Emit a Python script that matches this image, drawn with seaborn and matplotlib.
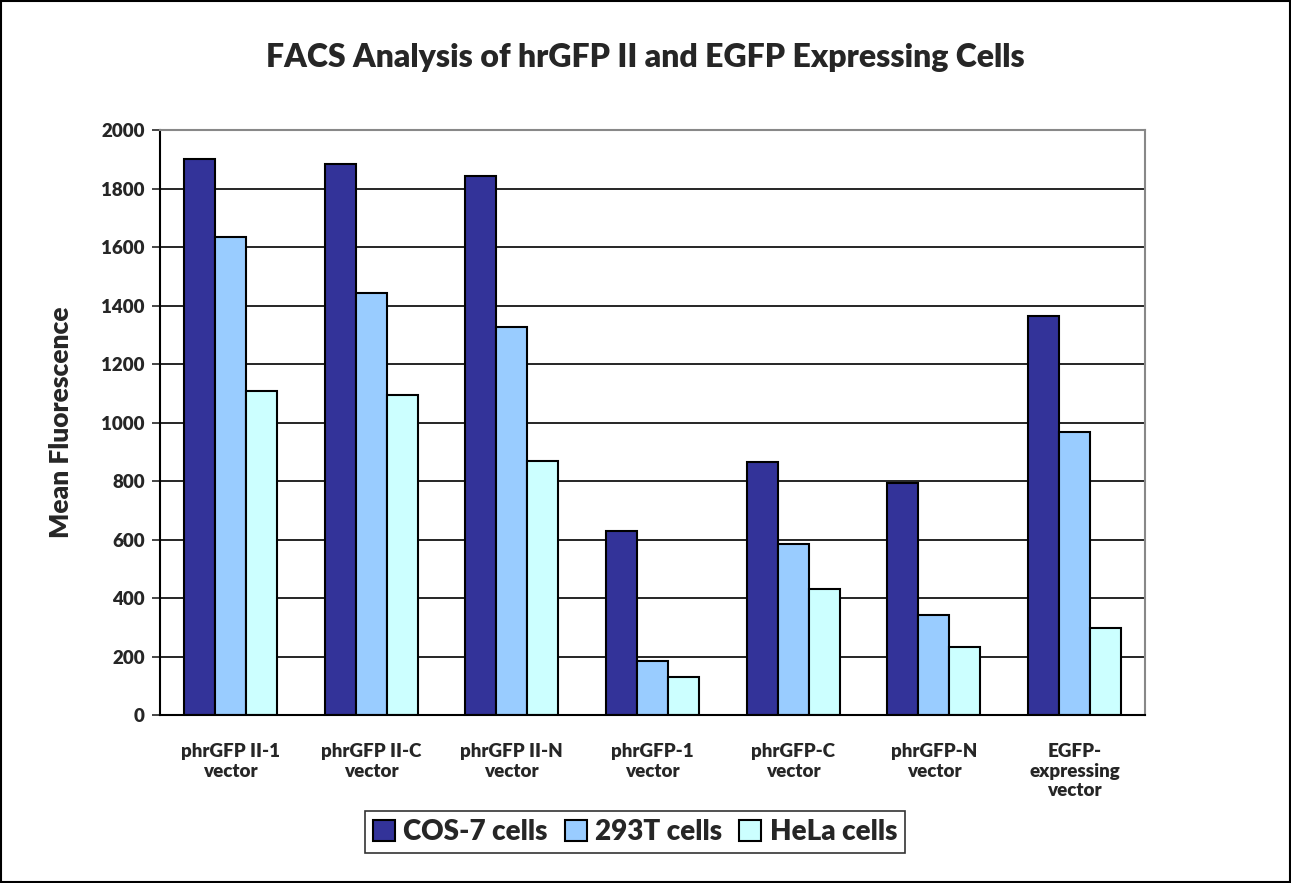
import pandas as pd
import matplotlib.pyplot as plt
import seaborn as sns
from matplotlib.patches import Rectangle

vectors = ["phrGFP II-1\nvector", "phrGFP II-C\nvector", "phrGFP II-N\nvector",
           "phrGFP-1\nvector", "phrGFP-C\nvector", "phrGFP-N\nvector",
           "EGFP-\nexpressing\nvector"]
cell_lines = ["COS-7 cells", "293T cells", "HeLa cells"]
cos7 = [1900, 1884, 1843, 630, 864, 792, 1365]
t293 = [1634, 1443, 1327, 185, 586, 342, 966]
hela = [1108, 1094, 868, 131, 431, 232, 299]
colors = ["#333399", "#99CCFF", "#CCFFFF"]

df = pd.DataFrame({
    "vector": vectors * 3,
    "cells": [c for c in cell_lines for _ in vectors],
    "value": cos7 + t293 + hela,
})

sns.set_theme(style="white")
plt.rcParams["font.family"] = ["Lato", "DejaVu Sans"]
W = "heavy"

fig = plt.figure(figsize=(12.91, 8.83), dpi=100)
ax = fig.add_axes([160 / 1291, 1 - 715 / 883, 985 / 1291, 585 / 883])

sns.barplot(data=df, x="vector", y="value", hue="cells", palette=colors,
            width=0.66, gap=0, edgecolor="black", linewidth=1.5, ax=ax,
            saturation=1, legend=True)

ax.set_ylim(0, 2000)
ax.set_yticks(range(0, 2001, 200))
ax.yaxis.grid(True, color="black", linewidth=1.2)
ax.set_axisbelow(True)
ax.set_xlim(-0.5, 6.5)
for s in ["top", "right"]:
    ax.spines[s].set_color("#888888")
    ax.spines[s].set_linewidth(1.5)
for s in ["left", "bottom"]:
    ax.spines[s].set_color("black")
    ax.spines[s].set_linewidth(1.5)
ax.tick_params(axis="y", left=True, direction="out", length=6, width=1.2,
               labelsize=13.5, pad=5)
ax.tick_params(axis="x", bottom=False, labelsize=13.5, pad=14)
for lab in ax.get_yticklabels() + ax.get_xticklabels():
    lab.set_fontweight(W)
ax.set_xlabel("")
ax.set_ylabel("Mean Fluorescence", fontsize=19, fontweight=W, labelpad=20)

fig.suptitle("FACS Analysis of hrGFP II and EGFP Expressing Cells",
             fontsize=23, fontweight=W, y=1 - 57 / 883, va="center")

leg = ax.legend(loc="center", bbox_to_anchor=(635 / 1291, 1 - 832 / 883),
                bbox_transform=fig.transFigure, ncol=3, frameon=True,
                fancybox=False, edgecolor="black",
                handlelength=0.8, handleheight=0.8, handletextpad=0.3,
                columnspacing=0.6, borderpad=0.3, prop={"weight": W, "size": 20})
leg.get_frame().set_linewidth(1.2)

fig.patches.append(Rectangle((0.001, 0.001), 0.998, 0.998, transform=fig.transFigure,
                             fill=False, edgecolor="black", linewidth=1.5))

fig.savefig("out.png", dpi=100)
plt.close()
